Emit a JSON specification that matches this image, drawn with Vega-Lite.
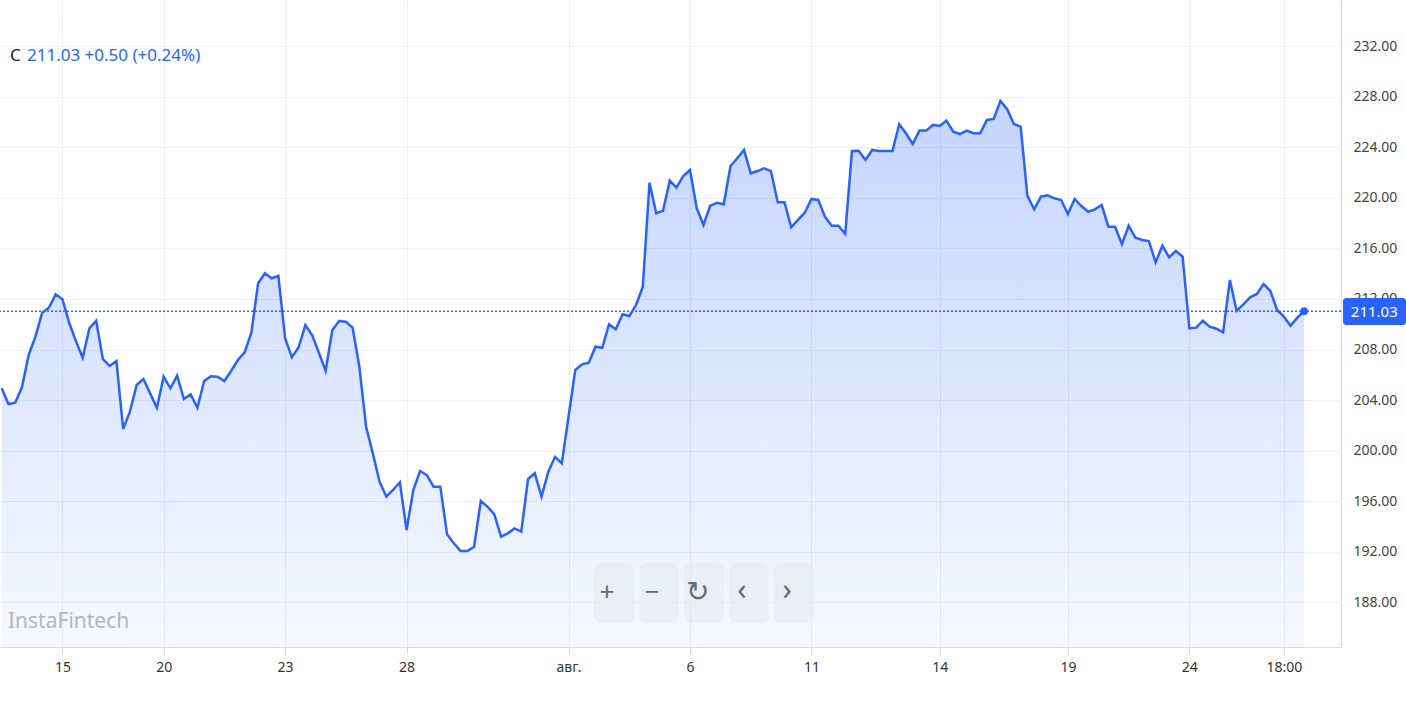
{
  "$schema": "https://vega.github.io/schema/vega-lite/v6.json",
  "width": 1341,
  "height": 647,
  "autosize": {"type": "none"},
  "padding": {"left": 0, "top": 0, "right": 65, "bottom": 68},
  "background": "white",
  "config": {"view": {"stroke": null}, "font": "Noto Sans"},
  "datasets": {
    "price": [
      {"i":0,"v":204.93},{"i":1,"v":203.69},{"i":2,"v":203.79},{"i":3,"v":205.01},{"i":4,"v":207.57},
      {"i":5,"v":209.02},{"i":6,"v":210.92},{"i":7,"v":211.31},{"i":8,"v":212.37},{"i":9,"v":211.98},
      {"i":10,"v":210.12},{"i":11,"v":208.67},{"i":12,"v":207.35},{"i":13,"v":209.68},{"i":14,"v":210.28},
      {"i":15,"v":207.23},{"i":16,"v":206.70},{"i":17,"v":207.09},{"i":18,"v":201.71},{"i":19,"v":203.08},
      {"i":20,"v":205.19},{"i":21,"v":205.67},{"i":22,"v":204.53},{"i":23,"v":203.39},{"i":24,"v":205.85},
      {"i":25,"v":204.93},{"i":26,"v":205.93},{"i":27,"v":204.08},{"i":28,"v":204.45},{"i":29,"v":203.39},
      {"i":30,"v":205.51},{"i":31,"v":205.88},{"i":32,"v":205.85},{"i":33,"v":205.51},{"i":34,"v":206.30},
      {"i":35,"v":207.17},{"i":36,"v":207.78},{"i":37,"v":209.33},{"i":38,"v":213.24},{"i":39,"v":214.03},
      {"i":40,"v":213.64},{"i":41,"v":213.82},{"i":42,"v":208.89},{"i":43,"v":207.38},{"i":44,"v":208.18},
      {"i":45,"v":209.94},{"i":46,"v":209.15},{"i":47,"v":207.75},{"i":48,"v":206.30},{"i":49,"v":209.55},
      {"i":50,"v":210.26},{"i":51,"v":210.20},{"i":52,"v":209.73},{"i":53,"v":206.64},{"i":54,"v":201.89},
      {"i":55,"v":199.78},{"i":56,"v":197.53},{"i":57,"v":196.35},{"i":58,"v":196.88},{"i":59,"v":197.49},
      {"i":60,"v":193.71},{"i":61,"v":196.88},{"i":62,"v":198.38},{"i":63,"v":198.06},{"i":64,"v":197.14},
      {"i":65,"v":197.14},{"i":66,"v":193.37},{"i":67,"v":192.66},{"i":68,"v":192.05},{"i":69,"v":192.05},
      {"i":70,"v":192.39},{"i":71,"v":196.01},{"i":72,"v":195.55},{"i":73,"v":194.95},{"i":74,"v":193.18},
      {"i":75,"v":193.45},{"i":76,"v":193.84},{"i":77,"v":193.58},{"i":78,"v":197.75},{"i":79,"v":198.20},
      {"i":80,"v":196.35},{"i":81,"v":198.33},{"i":82,"v":199.51},{"i":83,"v":198.99},{"i":84,"v":202.68},
      {"i":85,"v":206.38},{"i":86,"v":206.83},{"i":87,"v":206.96},{"i":88,"v":208.22},{"i":89,"v":208.14},
      {"i":90,"v":210.00},{"i":91,"v":209.60},{"i":92,"v":210.79},{"i":93,"v":210.65},{"i":94,"v":211.52},
      {"i":95,"v":212.95},{"i":96,"v":221.21},{"i":97,"v":218.79},{"i":98,"v":218.99},{"i":99,"v":221.37},
      {"i":100,"v":220.81},{"i":101,"v":221.74},{"i":102,"v":222.21},{"i":103,"v":219.18},{"i":104,"v":217.86},
      {"i":105,"v":219.39},{"i":106,"v":219.62},{"i":107,"v":219.50},{"i":108,"v":222.53},{"i":109,"v":223.14},
      {"i":110,"v":223.80},{"i":111,"v":221.95},{"i":112,"v":222.13},{"i":113,"v":222.35},{"i":114,"v":222.13},
      {"i":115,"v":219.66},{"i":116,"v":219.66},{"i":117,"v":217.68},{"i":118,"v":218.26},{"i":119,"v":218.83},
      {"i":120,"v":219.92},{"i":121,"v":219.84},{"i":122,"v":218.52},{"i":123,"v":217.80},{"i":124,"v":217.80},
      {"i":125,"v":217.15},{"i":126,"v":223.72},{"i":127,"v":223.74},{"i":128,"v":223.01},{"i":129,"v":223.80},
      {"i":130,"v":223.72},{"i":131,"v":223.72},{"i":132,"v":223.72},{"i":133,"v":225.83},{"i":134,"v":225.12},
      {"i":135,"v":224.27},{"i":136,"v":225.33},{"i":137,"v":225.33},{"i":138,"v":225.78},{"i":139,"v":225.70},
      {"i":140,"v":226.12},{"i":141,"v":225.25},{"i":142,"v":225.06},{"i":143,"v":225.33},{"i":144,"v":225.12},
      {"i":145,"v":225.12},{"i":146,"v":226.17},{"i":147,"v":226.25},{"i":148,"v":227.68},{"i":149,"v":227.02},
      {"i":150,"v":225.86},{"i":151,"v":225.64},{"i":152,"v":220.16},{"i":153,"v":219.10},{"i":154,"v":220.10},
      {"i":155,"v":220.21},{"i":156,"v":219.97},{"i":157,"v":219.84},{"i":158,"v":218.73},{"i":159,"v":219.92},
      {"i":160,"v":219.36},{"i":161,"v":218.91},{"i":162,"v":219.10},{"i":163,"v":219.44},{"i":164,"v":217.72},
      {"i":165,"v":217.72},{"i":166,"v":216.33},{"i":167,"v":217.80},{"i":168,"v":216.85},{"i":169,"v":216.67},
      {"i":170,"v":216.59},{"i":171,"v":214.90},{"i":172,"v":216.22},{"i":173,"v":215.30},{"i":174,"v":215.80},
      {"i":175,"v":215.35},{"i":176,"v":209.68},{"i":177,"v":209.73},{"i":178,"v":210.28},{"i":179,"v":209.81},
      {"i":180,"v":209.65},{"i":181,"v":209.36},{"i":182,"v":213.50},{"i":183,"v":211.07},{"i":184,"v":211.58},
      {"i":185,"v":212.13},{"i":186,"v":212.40},{"i":187,"v":213.19},{"i":188,"v":212.63},{"i":189,"v":211.13},
      {"i":190,"v":210.60},{"i":191,"v":209.89},{"i":192,"v":210.52},{"i":193,"v":211.03}
    ],
    "one": [{}]
  },
  "encoding": {
    "x": {
      "type": "quantitative",
      "scale": {"domain": [-0.25, 198.47], "nice": false, "zero": false},
      "axis": {
        "title": null,
        "values": [9, 24, 42, 60, 84, 102, 120, 139, 158, 176, 190],
        "labelExpr": "['15','20','23','28','авг.','6','11','14','19','24','18:00'][indexof([9,24,42,60,84,102,120,139,158,176,190], datum.value)]",
        "labelFontWeight": {"expr": "datum.label == 'авг.' ? 'bold' : 'normal'"},
        "grid": true, "gridColor": "#eceef2", "gridWidth": 1,
        "domainColor": "#d9dce1", "tickColor": "#d9dce1", "tickSize": 7,
        "labelFontSize": 14, "labelColor": "#333333", "labelPadding": 6
      }
    },
    "y": {
      "type": "quantitative",
      "scale": {"domain": [184.45, 235.67], "nice": false, "zero": false},
      "axis": {
        "orient": "right", "title": null,
        "values": [188, 192, 196, 200, 204, 208, 212, 216, 220, 224, 228, 232],
        "format": ".2f",
        "grid": true, "gridColor": "#f0f1f4",
        "domainColor": "#d9dce1", "ticks": false,
        "labelFontSize": 14, "labelColor": "#444444", "labelPadding": 12
      }
    }
  },
  "layer": [
    {
      "data": {"name": "price"},
      "mark": {
        "type": "area",
        "fill": {
          "gradient": "linear", "x1": 0, "y1": 0, "x2": 0, "y2": 1,
          "stops": [
            {"offset": 0, "color": "rgba(41,98,255,0.27)"},
            {"offset": 1, "color": "rgba(41,98,255,0.04)"}
          ]
        }
      },
      "encoding": {"x": {"field": "i"}, "y": {"field": "v"}, "y2": {"datum": 184.45}}
    },
    {
      "data": {"name": "price"},
      "mark": {"type": "line", "color": "#2962ff", "strokeWidth": 2.5},
      "encoding": {"x": {"field": "i"}, "y": {"field": "v"}}
    },
    {
      "data": {"name": "one"},
      "mark": {"type": "rule", "color": "#2962ff", "strokeWidth": 1.5, "strokeDash": [2, 2]},
      "encoding": {"y": {"datum": 211.03}}
    },
    {
      "data": {"name": "price"},
      "transform": [{"filter": "datum.i == 193"}],
      "mark": {"type": "point", "filled": true, "color": "#2962ff", "size": 60, "opacity": 1},
      "encoding": {"x": {"field": "i"}, "y": {"field": "v"}}
    },
    {
      "data": {"name": "one"},
      "mark": {"type": "rect", "fill": "#2962ff", "cornerRadius": 3, "clip": false},
      "encoding": {
        "x": {"datum": 198.77}, "x2": {"datum": 208.1},
        "y": {"datum": 212.08}, "y2": {"datum": 209.94}
      }
    },
    {
      "data": {"name": "one"},
      "mark": {"type": "text", "text": "211.03", "color": "white", "fontSize": 15, "align": "center", "baseline": "middle"},
      "encoding": {"x": {"datum": 203.4}, "y": {"datum": 211.0}}
    },
    {
      "data": {"name": "one"},
      "mark": {"type": "text", "text": "C", "color": "#222222", "fontSize": 17, "align": "left", "baseline": "middle"},
      "encoding": {"x": {"datum": 1.23}, "y": {"datum": 231.24}}
    },
    {
      "data": {"name": "one"},
      "mark": {"type": "text", "text": "211.03  +0.50 (+0.24%)", "color": "#2962ff", "fontSize": 17, "align": "left", "baseline": "middle"},
      "encoding": {"x": {"datum": 3.75}, "y": {"datum": 231.24}}
    },
    {
      "data": {"name": "one"},
      "mark": {"type": "text", "text": "InstaFintech", "color": "#b3b6bb", "fontSize": 21, "align": "left", "baseline": "middle"},
      "encoding": {"x": {"datum": 0.93}, "y": {"datum": 186.43}}
    },
    {"data": {"name": "one"}, "mark": {"type": "rect", "fill": "#e6e9ee", "opacity": 0.6, "cornerRadius": 7},
     "encoding": {"x": {"datum": 87.78}, "x2": {"datum": 93.7}, "y": {"datum": 191.1}, "y2": {"datum": 186.35}}},
    {"data": {"name": "one"}, "mark": {"type": "rect", "fill": "#e6e9ee", "opacity": 0.6, "cornerRadius": 7},
     "encoding": {"x": {"datum": 94.44}, "x2": {"datum": 100.37}, "y": {"datum": 191.1}, "y2": {"datum": 186.35}}},
    {"data": {"name": "one"}, "mark": {"type": "rect", "fill": "#e6e9ee", "opacity": 0.6, "cornerRadius": 7},
     "encoding": {"x": {"datum": 101.11}, "x2": {"datum": 107.04}, "y": {"datum": 191.1}, "y2": {"datum": 186.35}}},
    {"data": {"name": "one"}, "mark": {"type": "rect", "fill": "#e6e9ee", "opacity": 0.6, "cornerRadius": 7},
     "encoding": {"x": {"datum": 107.78}, "x2": {"datum": 113.71}, "y": {"datum": 191.1}, "y2": {"datum": 186.35}}},
    {"data": {"name": "one"}, "mark": {"type": "rect", "fill": "#e6e9ee", "opacity": 0.6, "cornerRadius": 7},
     "encoding": {"x": {"datum": 114.45}, "x2": {"datum": 120.38}, "y": {"datum": 191.1}, "y2": {"datum": 186.35}}},
    {"data": {"name": "one"}, "mark": {"type": "text", "text": "+", "color": "#666a70", "fontSize": 26, "align": "center", "baseline": "middle"},
     "encoding": {"x": {"datum": 89.7}, "y": {"datum": 188.75}}},
    {"data": {"name": "one"}, "mark": {"type": "text", "text": "−", "color": "#666a70", "fontSize": 26, "align": "center", "baseline": "middle"},
     "encoding": {"x": {"datum": 96.4}, "y": {"datum": 188.75}}},
    {"data": {"name": "one"}, "mark": {"type": "text", "text": "↻", "color": "#666a70", "fontSize": 28, "align": "center", "baseline": "middle"},
     "encoding": {"x": {"datum": 103.07}, "y": {"datum": 188.75}}},
    {"data": {"name": "one"}, "mark": {"type": "text", "text": "‹", "color": "#666a70", "fontSize": 30, "align": "center", "baseline": "middle"},
     "encoding": {"x": {"datum": 109.7}, "y": {"datum": 188.85}}},
    {"data": {"name": "one"}, "mark": {"type": "text", "text": "›", "color": "#666a70", "fontSize": 30, "align": "center", "baseline": "middle"},
     "encoding": {"x": {"datum": 116.4}, "y": {"datum": 188.85}}}
  ]
}
